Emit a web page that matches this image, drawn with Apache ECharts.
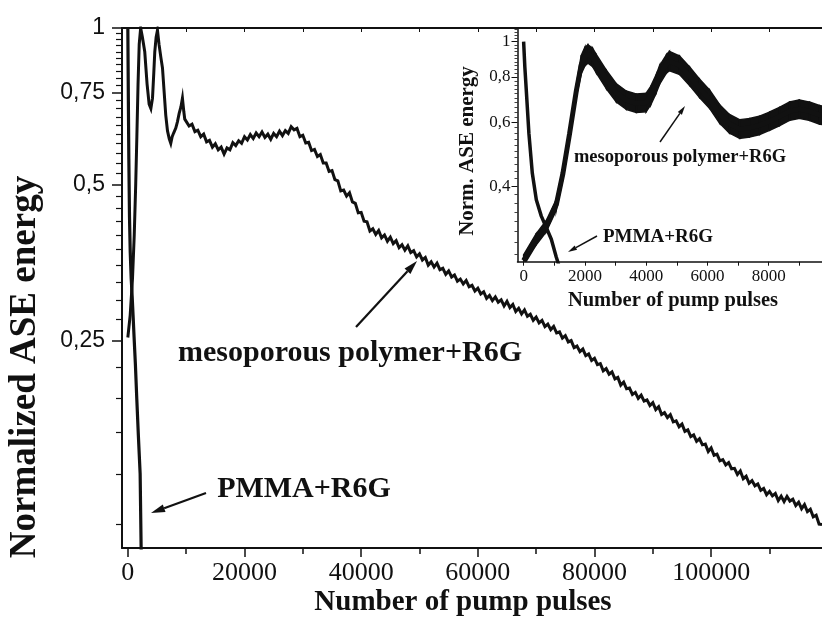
<!DOCTYPE html>
<html>
<head>
<meta charset="utf-8">
<script src="https://cdn.jsdelivr.net/npm/echarts@6/dist/echarts.min.js"></script>
<style>
html,body{margin:0;padding:0;background:#fff;}
#chart{width:822px;height:621px;}
</style>
</head>
<body>
<div id="chart"></div>
<script>
// ---------- DATA ----------
// Main plot: mesoporous polymer + R6G, first part (irregular sampling)
const mesoEarlyX = [0,400,800,1100,1350,1550,1750,1950,2200,2500,2900,3300,3650,3950,4230,4450,4620,4850,5080,5350,5650,5940,6200,6500,6800,7100,7360,7600,7850,8220,8500,8800,9100,9360,9600,9760];
const mesoEarlyY = [0.254,0.28,0.33,0.40,0.50,0.62,0.78,0.93,1.0,0.96,0.90,0.78,0.714,0.70,0.733,0.82,0.90,0.96,0.99,0.93,0.88,0.838,0.76,0.68,0.634,0.612,0.600,0.618,0.628,0.642,0.66,0.685,0.705,0.733,0.69,0.668];
// Main plot: mesoporous polymer + R6G, sampled every 500 pulses from 10000
const mesoMainStartX = 10000;
const mesoMainStepX = 500;
const mesoMainY = [
0.668,0.648,0.653,0.632,0.636,0.618,0.625,0.604,0.608,0.590,
0.599,0.583,0.590,0.572,0.588,0.583,0.602,0.594,0.607,0.600,
0.618,0.609,0.624,0.613,0.628,0.618,0.631,0.616,0.625,0.611,
0.627,0.618,0.633,0.621,0.635,0.627,0.646,0.637,0.641,0.618,
0.622,0.601,0.603,0.581,0.584,0.566,0.571,0.550,0.550,0.530,
0.532,0.511,0.508,0.486,0.488,0.475,0.482,0.463,0.460,0.441,
0.442,0.425,0.424,0.407,0.411,0.401,0.408,0.395,0.400,0.389,
0.396,0.385,0.390,0.378,0.383,0.374,0.381,0.370,0.373,0.363,
0.368,0.358,0.362,0.350,0.355,0.347,0.353,0.343,0.345,0.336,
0.341,0.332,0.335,0.326,0.329,0.322,0.327,0.318,0.320,0.312,
0.316,0.308,0.311,0.302,0.306,0.299,0.304,0.297,0.300,0.292,
0.298,0.290,0.294,0.285,0.289,0.282,0.287,0.279,0.2815,0.274,
0.278,0.271,0.274,0.2665,0.2695,0.263,0.2667,0.2592,0.2603,0.2532,
0.256,0.249,0.2505,0.2428,0.2445,0.2386,0.2413,0.2343,0.2361,0.2294,
0.2317,0.2252,0.2262,0.2191,0.2213,0.2158,0.218,0.2115,0.2129,0.2057,
0.2085,0.2024,0.203,0.1974,0.1992,0.194,0.1967,0.1916,0.1927,0.1879,
0.1903,0.1845,0.1869,0.1806,0.1821,0.1782,0.1805,0.1748,0.1756,0.1711,
0.1731,0.1676,0.1687,0.1638,0.165,0.1604,0.1622,0.1579,0.1584,0.1533,
0.1558,0.1508,0.1515,0.1471,0.1479,0.1445,0.146,0.142,0.1423,0.1385,
0.1407,0.1359,0.1374,0.1332,0.1348,0.1317,0.1328,0.1291,0.1302,0.1266,
0.1285,0.126,0.1273,0.1234,0.1258,0.1228,0.1257,0.1231,0.1241,0.1207,
0.1225,0.119,0.1212,0.1175,0.1187,0.1148,0.1156,0.1112,0.111
];
// Main plot: PMMA + R6G
const pmmaMainX = [0,88,173,284,414,577,740,900,1067,1300,1540,1800,2110,2280,2400];
const pmmaMainY = [1.0,0.73,0.56,0.434,0.37,0.33,0.305,0.28,0.255,0.225,0.193,0.165,0.139,0.1,0.09];

// Inset: mesoporous polymer + R6G (centre line and noise envelope)
const insetMesoX = [0,400,740,1067,1283,1500,1720,1880,2000,2100,2250,2370,2700,3020,3350,3680,4000,4150,4330,4440,4660,4760,5090,5420,5740,6070,6400,6720,7050,7370,7700,8030,8350,8680,9000,9330,9660,9800];
const insetMesoY = [0.25,0.285,0.311,0.356,0.434,0.558,0.732,0.864,0.91,0.925,0.905,0.87,0.787,0.724,0.69,0.676,0.68,0.71,0.766,0.81,0.868,0.882,0.861,0.803,0.744,0.694,0.632,0.594,0.575,0.579,0.588,0.604,0.622,0.643,0.652,0.643,0.629,0.625];
const insetMesoUpper = [0.259,0.295,0.322,0.368,0.449,0.578,0.76,0.916,0.965,0.98,0.959,0.922,0.834,0.767,0.731,0.717,0.721,0.753,0.812,0.859,0.92,0.94,0.913,0.851,0.789,0.736,0.67,0.63,0.61,0.614,0.623,0.64,0.659,0.682,0.691,0.682,0.667,0.663];
const insetMesoLower = [0.242,0.275,0.30,0.344,0.419,0.539,0.705,0.815,0.858,0.873,0.854,0.821,0.742,0.683,0.651,0.638,0.641,0.67,0.723,0.764,0.819,0.832,0.812,0.757,0.702,0.655,0.596,0.56,0.542,0.546,0.555,0.57,0.587,0.607,0.615,0.607,0.593,0.59];
// Inset: PMMA + R6G
const insetPmmaX = [0,40,88,173,284,414,577,740,904,1067,1120,1160];
const insetPmmaY = [1.0,0.85,0.732,0.558,0.434,0.367,0.331,0.308,0.286,0.255,0.247,0.24];

// Tick values / labels
const mainXMajor = [0,20000,40000,60000,80000,100000];
const mainXMinor = [10000,30000,50000,70000,90000,110000];
const mainXTop = [10000,20000,30000,40000,50000,60000,70000,80000,90000,100000,110000];
const mainYMajor = [0.25,0.5,0.75,1];
const mainYMinor = [0.1111,0.1389,0.1667,0.1944,0.2222,
  0.275,0.3,0.325,0.35,0.375,0.4,0.425,0.45,0.475,
  0.525,0.55,0.575,0.6,0.625,0.65,0.675,0.7,0.725,
  0.775,0.8,0.825,0.85,0.875,0.9,0.925,0.95,0.975];
const insetXLabels = [0,2000,4000,6000,8000];
const insetXTicks = [0,1000,2000,3000,4000,5000,6000,7000,8000,9000];
const insetYMajor = [0.4,0.6,0.8,1];
const insetYMinor = [0.26,0.28,0.3,0.32,0.34,0.36,0.38,0.42,0.44,0.46,0.48,0.5,0.52,0.54,0.56,0.58,
  0.62,0.64,0.66,0.68,0.7,0.72,0.74,0.76,0.78,0.82,0.84,0.86,0.88,0.9,0.92,0.94,0.96,0.98,1.02,1.04,1.06,1.08];

// ---------- BUILD ----------
const INK = '#111';
const SERIF = '"Liberation Serif","Times New Roman",serif';
const SANS = '"Liberation Sans",Arial,sans-serif';
const pairs = (xs, ys) => xs.map((x, i) => [x, ys[i]]);
const commaFmt = v => String(Math.round(v * 100) / 100).replace('.', ',');

const mainMesoData = pairs(mesoEarlyX, mesoEarlyY).concat(
  mesoMainY.map((v, i) => [mesoMainStartX + i * mesoMainStepX, v]));

function arrow(x1, y1, x2, y2, len, w, lw) {
  const a = Math.atan2(y2 - y1, x2 - x1);
  const bx = x2 - len * Math.cos(a), by = y2 - len * Math.sin(a);
  const px = -Math.sin(a) * w / 2, py = Math.cos(a) * w / 2;
  return [
    {type: 'line', shape: {x1: x1, y1: y1, x2: bx, y2: by}, style: {stroke: INK, lineWidth: lw}, z: 50},
    {type: 'polygon', shape: {points: [[x2, y2], [bx + px, by + py], [bx - px, by - py]]}, style: {fill: INK}, z: 50}
  ];
}
function label(text, x, y, size, rot) {
  return {
    type: 'text', x: x, y: y, rotation: rot || 0, z: 50,
    style: {text: text, font: 'bold ' + size + 'px ' + SERIF, fill: INK,
      textAlign: 'center', textVerticalAlign: 'middle', align: 'center', verticalAlign: 'middle'}
  };
}

const lineAxis = w => ({show: true, onZero: false, lineStyle: {color: INK, width: w}});

const option = {
  animation: false,
  backgroundColor: '#fff',
  grid: [
    {left: 122, top: 28, width: 700, height: 520, outerBoundsMode: 'none'},
    {left: 517.5, top: 28, width: 304.5, height: 233.7, show: true, backgroundColor: '#fff', borderWidth: 0, outerBoundsMode: 'none'}
  ],
  xAxis: [
    {gridIndex: 0, type: 'value', min: -1000, max: 119000, position: 'bottom',
      axisLine: lineAxis(2),
      axisTick: {show: true, inside: false, length: 9, customValues: mainXMajor, lineStyle: {color: INK, width: 1.5}},
      axisLabel: {show: true, customValues: mainXMajor, formatter: v => String(v), fontFamily: SERIF, fontSize: 26, color: INK, margin: 12},
      splitLine: {show: false}},
    {gridIndex: 0, type: 'value', min: -1000, max: 119000, position: 'bottom',
      axisLine: {show: false, onZero: false},
      axisTick: {show: true, inside: false, length: 6, customValues: mainXMinor, lineStyle: {color: INK, width: 1.5}},
      axisLabel: {show: false}, splitLine: {show: false}},
    {gridIndex: 0, type: 'value', min: -1000, max: 119000, position: 'top',
      axisLine: lineAxis(2),
      axisTick: {show: true, inside: true, length: 4, customValues: mainXTop, lineStyle: {color: INK, width: 1}},
      axisLabel: {show: false}, splitLine: {show: false}},
    {gridIndex: 1, type: 'value', min: -200, max: 9740, position: 'bottom',
      axisLine: lineAxis(1.5),
      axisTick: {show: true, inside: false, length: 4, customValues: insetXTicks, lineStyle: {color: INK, width: 1}},
      axisLabel: {show: true, customValues: insetXLabels, formatter: v => String(v), fontFamily: SERIF, fontSize: 17, color: INK, margin: 6},
      splitLine: {show: false}}
  ],
  yAxis: [
    {gridIndex: 0, type: 'log', logBase: 10, min: 0.1, max: 1, position: 'left',
      axisLine: lineAxis(2),
      axisTick: {show: true, inside: false, length: 10, customValues: mainYMajor, lineStyle: {color: INK, width: 1.5}},
      axisLabel: {show: true, customValues: mainYMajor, formatter: commaFmt, fontFamily: SANS, fontSize: 23, color: INK, margin: 17},
      splitLine: {show: false}, minorTick: {show: false}},
    {gridIndex: 0, type: 'log', logBase: 10, min: 0.1, max: 1, position: 'left',
      axisLine: {show: false, onZero: false},
      axisTick: {show: true, inside: false, length: 6, customValues: mainYMinor, lineStyle: {color: INK, width: 1.2}},
      axisLabel: {show: false}, splitLine: {show: false}},
    {gridIndex: 1, type: 'log', logBase: 10, min: 0.248, max: 1.09, position: 'left',
      axisLine: lineAxis(1.5),
      axisTick: {show: true, inside: false, length: 6, customValues: insetYMajor, lineStyle: {color: INK, width: 1}},
      axisLabel: {show: true, customValues: insetYMajor, formatter: commaFmt, fontFamily: SERIF, fontSize: 17, color: INK, margin: 7},
      splitLine: {show: false}},
    {gridIndex: 1, type: 'log', logBase: 10, min: 0.248, max: 1.09, position: 'left',
      axisLine: {show: false, onZero: false},
      axisTick: {show: true, inside: false, length: 3, customValues: insetYMinor, lineStyle: {color: INK, width: 0.8}},
      axisLabel: {show: false}, splitLine: {show: false}}
  ],
  series: [
    {name: 'meso main', type: 'line', xAxisIndex: 0, yAxisIndex: 0, data: mainMesoData,
      symbol: 'none', lineStyle: {color: INK, width: 3, join: 'miter'}, clip: true, z: 3},
    {name: 'pmma main', type: 'line', xAxisIndex: 0, yAxisIndex: 0, data: pairs(pmmaMainX, pmmaMainY),
      symbol: 'none', lineStyle: {color: INK, width: 3.2}, clip: true, z: 3},
    {name: 'meso inset band', type: 'custom', xAxisIndex: 3, yAxisIndex: 2, clip: true,
      data: insetMesoX.map((x, i) => [x, insetMesoLower[i], insetMesoUpper[i]]),
      encode: {x: 0, y: [1, 2]},
      renderItem: function (params, api) {
        const i = params.dataIndex;
        if (i >= insetMesoX.length - 1) return null;
        const pts = [
          api.coord([insetMesoX[i], insetMesoUpper[i]]),
          api.coord([insetMesoX[i + 1], insetMesoUpper[i + 1]]),
          api.coord([insetMesoX[i + 1], insetMesoLower[i + 1]]),
          api.coord([insetMesoX[i], insetMesoLower[i]])
        ];
        return {type: 'polygon', shape: {points: pts}, style: {fill: INK, stroke: INK, lineWidth: 1.5}};
      }, z: 3},
    {name: 'meso inset', type: 'line', xAxisIndex: 3, yAxisIndex: 2, data: pairs(insetMesoX, insetMesoY),
      symbol: 'none', lineStyle: {color: INK, width: 5}, clip: true, z: 4},
    {name: 'pmma inset', type: 'line', xAxisIndex: 3, yAxisIndex: 2, data: pairs(insetPmmaX, insetPmmaY),
      symbol: 'none', lineStyle: {color: INK, width: 3.5}, clip: true, z: 4}
  ],
  graphic: [].concat(
    [
      label('Normalized ASE energy', 25, 367, 37, Math.PI / 2),
      label('Number of pump pulses', 463, 603, 29, 0),
      label('mesoporous polymer+R6G', 350, 353, 30, 0),
      label('PMMA+R6G', 304, 489, 30, 0),
      label('Norm. ASE energy', 468, 151, 21, Math.PI / 2),
      label('Number of pump pulses', 673, 301, 20.5, 0),
      label('mesoporous polymer+R6G', 680, 157, 18.5, 0),
      label('PMMA+R6G', 658, 237, 19, 0)
    ],
    arrow(356, 327, 417, 261, 14, 8, 2.2),
    arrow(206, 493, 151, 513, 14, 8, 2.2),
    arrow(660, 142, 685, 106, 9, 5, 1.5),
    arrow(597, 236, 568, 252, 9, 5, 1.5)
  )
};

const chart = echarts.init(document.getElementById('chart'), null, {renderer: 'canvas'});
chart.setOption(option);
</script>
</body>
</html>
